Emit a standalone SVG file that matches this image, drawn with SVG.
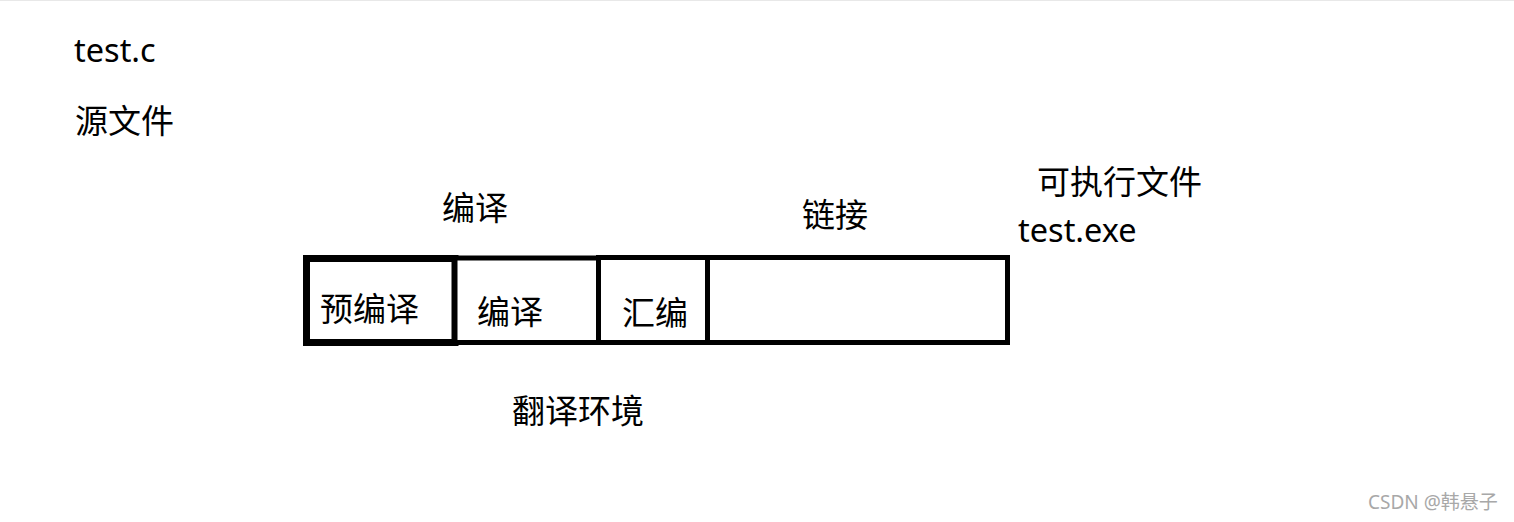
<svg xmlns="http://www.w3.org/2000/svg" width="1514" height="522" viewBox="0 0 1514 522">
<style>
.t{font-family:"Noto Sans","Noto Sans CJK SC",sans-serif;font-size:32.5px;fill:#000}
.c{font-family:"Noto Sans CJK SC","Noto Sans",sans-serif;font-size:33px;fill:#000}
.cell{fill:#fff;stroke:#000;stroke-width:5}
.wm{font-family:"Noto Sans","Noto Sans CJK SC",sans-serif;font-size:19px;fill:#a8a8a8}
</style>
<rect x="0" y="0" width="1514" height="522" fill="#fff"/>
<line x1="0" y1="0.5" x2="1514" y2="0.5" stroke="#e8e8e8" stroke-width="1"/>
<g id="labels">
<text class="t" x="74" y="62">test.c</text>
<text class="c" x="75" y="133">源文件</text>
<text class="c" x="442" y="220">编译</text>
<text class="c" x="802" y="227">链接</text>
<text class="c" x="1037" y="194">可执行文件</text>
<text class="t" x="1018" y="242">test.exe</text>
<text class="c" x="512" y="423">翻译环境</text>
</g>
<g id="connectors"></g>
<g id="cell-prep">
<rect class="cell" x="306.5" y="258.5" width="148.5" height="84" style="stroke-width:7"/>
<text class="c" x="320" y="321">预编译</text>
</g>
<g id="cell-compile">
<rect class="cell" x="455" y="258" width="143.5" height="84.5"/>
<text class="c" x="477" y="324">编译</text>
</g>
<g id="cell-assemble">
<rect class="cell" x="598.5" y="257.5" width="109" height="85"/>
<text class="c" x="622" y="325">汇编</text>
</g>
<g id="cell-link">
<rect class="cell" x="707.5" y="257.5" width="300" height="85"/>
</g>
<text class="wm" x="1368" y="509">CSDN @韩悬子</text>
</svg>
